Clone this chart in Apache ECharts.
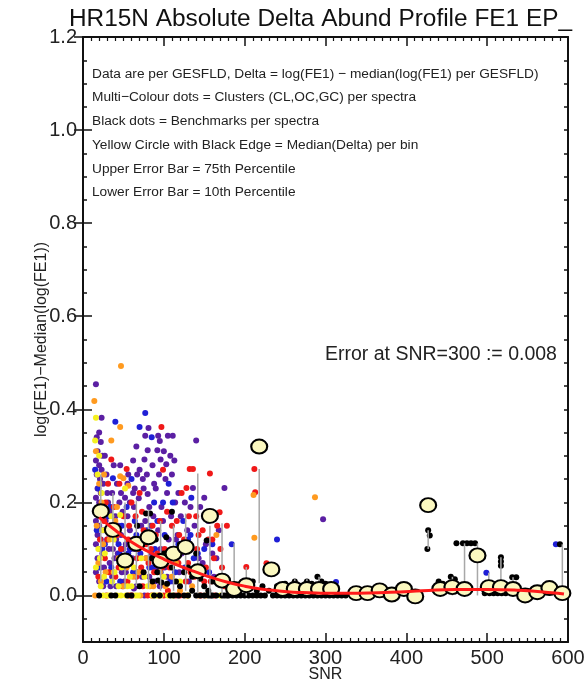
<!DOCTYPE html>
<html>
<head>
<meta charset="utf-8">
<script src="https://cdn.jsdelivr.net/npm/echarts@6/dist/echarts.min.js"></script>
<style>
  html, body { margin: 0; padding: 0; background: #fff; }
  #chart { width: 585px; height: 679px; }
</style>
</head>
<body>
<div id="chart"></div>
<script>
// cluster dots (per spectrum), [SNR, delta]
const purpleDots = [
  [16,0.454],[23,0.382],[20,0.35],[17,0.34],[22,0.33],[18,0.31],[24,0.30],[16,0.29],[20,0.28],[23,0.27],
  [17,0.26],[21,0.25],[25,0.24],[18,0.23],[22,0.22],[16,0.21],[20,0.20],[24,0.19],[18,0.18],[22,0.17],
  [16,0.16],[20,0.15],[25,0.14],[18,0.13],[22,0.12],[16,0.11],[21,0.10],[24,0.09],[18,0.08],[22,0.06],
  [16,0.05],[20,0.03],[25,0.02],[30,0.22],[33,0.18],[35,0.15],[30,0.12],[37,0.10],[33,0.07],[36,0.04],
  [42,0.24],[45,0.20],[40,0.17],[47,0.13],[43,0.09],[48,0.05],[41,0.02],[56,0.26],[52,0.21],[55,0.17],
  [58,0.14],[53,0.11],[57,0.07],[51,0.03],[66,0.32],[62,0.29],[67,0.26],[64,0.23],[69,0.209],[63,0.19],
  [68,0.15],[65,0.12],[61,0.08],[67,0.05],[63,0.015],[77,0.343],[81,0.36],[80,0.312],[76,0.292],[79,0.26],
  [80,0.218],[75,0.23],[82,0.19],[77,0.16],[83,0.12],[78,0.08],[82,0.04],[76,0.0],[93,0.343],[95,0.332],
  [92,0.312],[96,0.292],[94,0.26],[90,0.23],[97,0.19],[93,0.14],[96,0.10],[91,0.06],[95,0.02],[105,0.343],
  [111,0.343],[103,0.282],[108,0.30],[110,0.26],[104,0.22],[109,0.17],[106,0.12],[111,0.08],[104,0.04],
  [118,0.22],[121,0.17],[117,0.13],[122,0.09],[119,0.05],[136,0.231],[140,0.333],[133,0.19],[138,0.15],
  [134,0.10],[139,0.06],[150,0.21],[155,0.16],[152,0.11],[148,0.07],[175,0.231],[168,0.14],[165,0.08],
  [297,0.164],
  [27,0.30],[29,0.26],[31,0.20],[28,0.16],[32,0.10],[26,0.06],[34,0.02],[38,0.28],[36,0.22],[39,0.08],
  [41,0.12],[44,0.15],[46,0.28],[49,0.18],[47,0.22],[50,0.10],[53,0.05],[55,0.24],[58,0.20],[59,0.10],
  [62,0.22],[64,0.10],[66,0.02],[70,0.27],[72,0.15],[71,0.12],[73,0.04],[74,0.25],[86,0.28],[88,0.24],
  [87,0.17],[85,0.09],[89,0.03],[100,0.31],[102,0.25],[99,0.16],[101,0.06],[113,0.29],[115,0.12],[114,0.20],
  [112,0.03],[126,0.20],[124,0.10],[129,0.14],[131,0.03],[145,0.19],[143,0.08],[160,0.09],[158,0.18],[162,0.04]
];
const blueDots = [
  [15,0.27],[19,0.23],[23,0.19],[17,0.14],[24,0.10],[19,0.06],[40,0.373],[37,0.252],[34,0.19],[39,0.14],
  [44,0.11],[35,0.06],[46,0.03],[70,0.362],[77,0.392],[60,0.25],[54,0.19],[64,0.16],[58,0.10],[62,0.05],
  [85,0.34],[88,0.20],[84,0.15],[89,0.10],[86,0.06],[99,0.20],[111,0.20],[106,0.24],[101,0.13],[112,0.08],
  [108,0.03],[124,0.16],[130,0.12],[126,0.06],[134,0.21],[142,0.09],[145,0.04],[160,0.11],[156,0.05],
  [170,0.03],[184,0.11],[240,0.12],[313,0.029],[499,0.049],[585,0.11],
  [27,0.11],[29,0.03],[31,0.17],[45,0.09],[48,0.15],[50,0.06],[56,0.09],[66,0.13],[71,0.09],[74,0.11],
  [79,0.14],[82,0.06],[92,0.16],[96,0.05],[103,0.08],[114,0.05],[118,0.11],[133,0.13],[137,0.08],[150,0.10]
];
const redDots = [
  [28,0.20],[31,0.24],[35,0.292],[26,0.16],[30,0.12],[27,0.08],[32,0.05],[29,0.0],[45,0.24],[50,0.17],
  [47,0.10],[44,0.06],[49,0.02],[54,0.272],[60,0.20],[57,0.15],[63,0.12],[59,0.07],[55,0.03],[61,0.0],
  [70,0.22],[73,0.18],[68,0.10],[72,0.06],[74,0.02],[86,0.15],[84,0.10],[88,0.05],[85,0.0],[97,0.362],
  [99,0.27],[95,0.16],[101,0.10],[98,0.06],[100,0.0],[110,0.15],[113,0.10],[107,0.06],[115,0.0],[122,0.22],
  [128,0.231],[132,0.272],[136,0.272],[125,0.12],[130,0.07],[127,0.03],[140,0.17],[143,0.13],[138,0.04],
  [146,0.0],[157,0.262],[152,0.06],[160,0.12],[158,0.03],[166,0.15],[169,0.179],[170,0.10],[172,0.06],
  [175,0.02],[178,0.15],[202,0.061],[212,0.272],[213,0.222],[227,0.069],
  [24,0.17],[21,0.12],[19,0.04],[33,0.14],[38,0.19],[40,0.04],[42,0.13],[52,0.08],[56,0.12],[58,0.0],
  [65,0.17],[67,0.08],[66,0.04],[75,0.14],[78,0.11],[81,0.07],[80,0.0],[90,0.13],[92,0.09],[94,0.0],
  [104,0.18],[106,0.09],[105,0.01],[116,0.16],[119,0.13],[118,0.07],[120,0.0],[131,0.17],[133,0.05],
  [141,0.10],[148,0.14],[150,0.03],[162,0.08],[155,0.12],[163,0.0]
];
const orangeDots = [
  [14,0.418],[47,0.493],[46,0.362],[35,0.333],[16,0.31],[20,0.24],[23,0.20],[17,0.15],[25,0.11],[19,0.07],
  [22,0.03],[15,0.0],[46,0.256],[50,0.252],[56,0.236],[40,0.16],[44,0.08],[50,0.02],[65,0.12],[62,0.04],
  [78,0.08],[83,0.02],[95,0.05],[211,0.216],[212,0.124],[287,0.211],[190,0.005],[165,0.13],[175,0.03],
  [135,0.02],[120,0.01],[110,0.04],
  [26,0.26],[28,0.05],[33,0.12],[38,0.05],[42,0.19],[54,0.06],[57,0.0],[69,0.05],[71,0.0],[87,0.02],
  [102,0.02],[115,0.07],[128,0.0],[143,0.0],[152,0.0]
];
const yellowDots = [
  [16,0.382],[15,0.333],[20,0.30],[18,0.26],[23,0.22],[17,0.18],[24,0.14],[19,0.10],[16,0.06],[22,0.02],
  [30,0.0],[27,0.09],[36,0.03],[38,0.12],[42,0.0],[48,0.06],[53,0.0],[58,0.04],[65,0.0],[72,0.08],
  [80,0.02],[91,0.0],[100,0.04],[52,0.23],[35,0.17],[25,0.0],[60,0.02],[105,0.0],[120,0.03],[170,0.0],
  [46,0.173],
  [21,0.08],[26,0.04],[29,0.14],[33,0.0],[39,0.05],[44,0.02],[47,0.0],[55,0.02],[63,0.06],[68,0.0],
  [76,0.04],[86,0.0],[96,0.0],[111,0.0],[130,0.0]
];
// benchmark dots (black)
const blackDots = [
  [78,0.176],[83,0.176],[67,0.15],[103,0.125],[153,0.118],[145,0.036],[155,0.01],[93,0.032],[97,0.028],
  [104,0.025],[60,0.0],[55,0.0],[70,0.02],[115,0.03],[120,0.02],[125,0.0],[135,0.01],[140,0.0],[150,0.0],
  [160,0.0],[165,0.0],[168,0.03],[175,0.0],[180,0.0],[185,0.0],[190,0.0],[195,0.0],[200,0.0],[205,0.0],
  [210,0.0],[215,0.0],[220,0.0],[225,0.0],[230,0.01],[240,0.0],[245,0.0],[250,0.0],[255,0.0],[260,0.0],
  [265,0.0],[270,0.0],[275,0.0],[280,0.0],[285,0.0],[290,0.0],[295,0.0],[300,0.0],[305,0.0],[310,0.0],
  [315,0.0],[320,0.0],[325,0.0],[250,0.025],[262,0.03],[277,0.03],[283,0.025],[290,0.04],[295,0.03],
  [300,0.025],[310,0.02],[240,0.02],[427,0.14],[429,0.129],[426,0.10],[462,0.112],[470,0.112],[475,0.112],
  [480,0.112],[485,0.112],[517,0.082],[517,0.073],[517,0.064],[531,0.039],[536,0.039],[497,0.005],
  [503,0.005],[508,0.005],[513,0.005],[518,0.005],[523,0.005],[455,0.04],[460,0.035],[440,0.03],
  [445,0.025],[590,0.11],[120,0.11],[110,0.18],[90,0.12],[100,0.09],[130,0.06],[75,0.05],[85,0.08],
  [140,0.09],[210,0.03],[222,0.02],[40,0.0],[20,0.0],[35,0.0],
  [88,0.0],[95,0.0],[108,0.0],[112,0.0],[118,0.0],[130,0.0],[145,0.0],[155,0.0],[158,0.0],[86,0.03],
  [92,0.05],[110,0.06],[125,0.05],[135,0.04],[150,0.02],[160,0.03],[172,0.0],[178,0.0],[182,0.005],
  [235,0.0],[200,0.015],[215,0.01]
];
// per-bin statistics
const binX   = [22,37,52,66,81,96,112,127,142,157,172,187,202,218,233,247,262,277,292,307,
                338,352,367,382,397,411,427,442,457,472,488,502,517,532,547,562,577,593];
const binMed = [0.181,0.141,0.075,0.111,0.125,0.074,0.090,0.104,0.052,0.171,0.032,0.014,0.022,0.320,0.056,
                0.014,0.014,0.014,0.014,0.014,0.005,0.005,0.011,0.002,0.014,-0.002,0.194,0.014,0.018,0.014,
                0.086,0.018,0.018,0.014,0.000,0.007,0.016,0.005];
const binLo  = [0.030,0.020,0.015,0.020,0.015,0.010,0.010,0.010,0.005,0.000,0.000,0.000,0.000,0.026,0.050,
                0.000,0.000,0.000,0.000,0.000,0.000,0.000,0.000,0.000,0.000,0.000,0.100,0.000,0.000,0.000,
                0.000,0.010,0.010,0.005,0.000,0.000,0.000,0.000];
const binHi  = [0.260,0.220,0.200,0.204,0.183,0.160,0.150,0.176,0.262,0.150,0.155,0.112,0.061,0.272,0.070,
                0.030,0.035,0.035,0.040,0.030,0.010,0.010,0.015,0.010,0.020,0.010,0.140,0.025,0.040,0.112,
                0.112,0.049,0.082,0.039,0.010,0.012,0.020,0.110];
// smooth fit (red)
const fitX = [20,40,60,80,100,120,140,160,180,200,220,240,260,280,300,340,380,420,460,500,540,580,595];
const fitY = [0.168,0.140,0.115,0.095,0.078,0.063,0.050,0.038,0.028,0.020,0.014,0.010,0.007,0.006,0.005,
              0.005,0.007,0.010,0.013,0.013,0.011,0.006,0.003];
const yMajor = [0, 0.2, 0.4, 0.6, 0.8, 1.0, 1.2];
const notes = [
  'Data are per GESFLD, Delta = log(FE1) \u2212 median(log(FE1) per GESFLD)',
  'Multi\u2212Colour dots = Clusters (CL,OC,GC) per spectra',
  'Black dots = Benchmarks per spectra',
  'Yellow Circle with Black Edge = Median(Delta) per bin',
  'Upper Error Bar = 75th Percentile',
  'Lower Error Bar = 10th Percentile'
];

const FONT = 'Liberation Sans, Arial, sans-serif';
const chart = echarts.init(document.getElementById('chart'), null, {renderer: 'canvas'});

const xBase = {
  type: 'value', min: 0, max: 600, interval: 100,
  axisLine: {show: true, onZero: false, lineStyle: {color: '#111', width: 2}},
  axisTick: {show: true, inside: true, length: 9, lineStyle: {color: '#111', width: 1.5}},
  minorTick: {show: true, splitNumber: 10, length: 4, lineStyle: {color: '#111', width: 1.2}},
  splitLine: {show: false}
};
const yBase = {
  type: 'value', min: -0.1, max: 1.2, interval: 0.05,
  axisLine: {show: true, onZero: false, lineStyle: {color: '#111', width: 2}},
  axisTick: {show: true, inside: true, length: 4, lineStyle: {color: '#111', width: 1.5}},
  axisLabel: {show: false},
  splitLine: {show: false}
};
const yMajorAxis = (pos) => ({
  type: 'value', min: -0.1, max: 1.2, position: pos,
  axisLine: {show: false},
  axisTick: {show: true, inside: true, length: 9, customValues: yMajor, lineStyle: {color: '#111', width: 1.5}},
  axisLabel: {show: false},
  splitLine: {show: false}
});

const dotSeries = (data, color) => ({
  type: 'scatter', data: data, symbolSize: 6, z: 2,
  itemStyle: {color: color, opacity: 1}, silent: true
});

chart.setOption({
  animation: false,
  backgroundColor: '#fff',
  title: {
    text: 'HR15N Absolute Delta Abund Profile FE1 EP_',
    left: 64, top: 2,
    textStyle: {fontFamily: FONT, fontSize: 24.4, fontWeight: 'normal', color: '#111'}
  },
  grid: {left: 83, right: 17, top: 37, bottom: 37, outerBoundsMode: 'none', containLabel: false},
  xAxis: [
    Object.assign({}, xBase, {
      position: 'bottom',
      name: 'SNR', nameLocation: 'middle', nameGap: 25, nameMoveOverlap: false,
      nameTextStyle: {fontFamily: FONT, fontSize: 16, color: '#222'},
      axisLabel: {show: true, margin: 6, fontFamily: FONT, fontSize: 20, color: '#222'}
    }),
    Object.assign({}, xBase, {position: 'top', axisLabel: {show: false}})
  ],
  yAxis: [
    Object.assign({}, yBase, {
      position: 'left',
      name: 'log(FE1)\u2212Median(log(FE1))', nameLocation: 'middle', nameGap: 33, nameRotate: 90,
      nameMoveOverlap: false,
      nameTextStyle: {fontFamily: FONT, fontSize: 16, color: '#222'},
      axisLabel: {
        show: true, margin: 6, customValues: yMajor, fontFamily: FONT, fontSize: 20, color: '#222',
        formatter: (v) => v.toFixed(1)
      }
    }),
    Object.assign({}, yBase, {position: 'right'}),
    yMajorAxis('left'),
    yMajorAxis('right')
  ],
  graphic: notes.map((t, i) => ({
    type: 'text', left: 92, top: 67 + i * 23.7, silent: true,
    style: {text: t, fontFamily: FONT, fontSize: 13.7, fill: '#222'}
  })).concat([{
    type: 'text', left: 325, top: 345, silent: true,
    style: {text: 'Error at SNR=300 := 0.008', fontFamily: FONT, fontSize: 19.5, fill: '#222'}
  }]),
  series: [
    dotSeries(purpleDots, '#5b1fa3'),
    dotSeries(blueDots, '#1f1fd6'),
    dotSeries(redDots, '#f01818'),
    dotSeries(orangeDots, '#ff9a1f'),
    dotSeries(yellowDots, '#f5f020'),
    Object.assign(dotSeries(blackDots, '#000'), {z: 3}),
    {
      type: 'custom', z: 4, silent: true,
      data: binX.map((x, i) => [x, binLo[i], binHi[i]]),
      encode: {x: 0, y: [1, 2]},
      renderItem: (params, api) => {
        const a = api.coord([api.value(0), api.value(1)]);
        const b = api.coord([api.value(0), api.value(2)]);
        return {
          type: 'line',
          shape: {x1: a[0], y1: a[1], x2: b[0], y2: b[1]},
          style: {stroke: '#a8a8a8', lineWidth: 1.5}
        };
      }
    },
    {
      type: 'scatter', z: 5, silent: true,
      data: binX.map((x, i) => [x, binMed[i]]),
      symbolSize: [16, 14],
      itemStyle: {color: '#fbf8c0', borderColor: '#000', borderWidth: 2, opacity: 1}
    },
    {
      type: 'line', z: 6, silent: true, smooth: true, showSymbol: false,
      data: fitX.map((x, i) => [x, fitY[i]]),
      lineStyle: {color: '#ff1a1a', width: 3}
    }
  ]
});
</script>
</body>
</html>
